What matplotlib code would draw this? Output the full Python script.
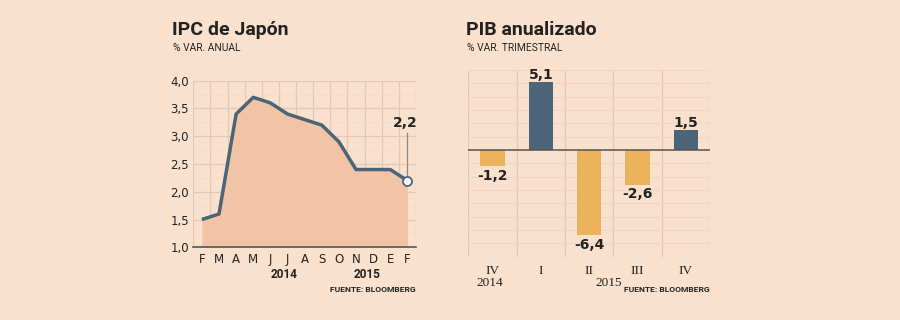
import matplotlib.pyplot as plt
from matplotlib.ticker import MultipleLocator, FixedLocator

# IPC de Japon, % var. anual (feb 2014 - feb 2015)
months = ["F", "M", "A", "M", "J", "J", "A", "S", "O", "N", "D", "E", "F"]
ipc = [1.5, 1.6, 3.4, 3.7, 3.6, 3.4, 3.3, 3.2, 2.9, 2.4, 2.4, 2.4, 2.2]
ipc_yticks = [1.0, 1.5, 2.0, 2.5, 3.0, 3.5, 4.0]

# PIB anualizado, % var. trimestral
quarters = ["IV", "I", "II", "III", "IV"]
pib = [-1.2, 5.1, -6.4, -2.6, 1.5]
pib_colors = ["#ebb25a", "#4b6478", "#ebb25a", "#ebb25a", "#4b6478"]

bg = "#f9e1cd"
grid_c = "#e3c8b5"
line_c = "#4b6478"
W, H = 900, 320

def fx(px):
    return px / W

def fy(py):
    return 1 - py / H

def fmt(v):
    return f"{v:.1f}".replace(".", ",")

fig = plt.figure(figsize=(9, 3.2), dpi=100, facecolor=bg)
narrow = ["Roboto", "DejaVu Sans"]

# ---- left chart ----
ax1 = fig.add_axes([fx(193.3), fy(247.3), fx(416 - 193.3), (247.3 - 80.7) / H])
ax1.set_facecolor(bg)
x = list(range(len(months)))
ax1.fill_between(x, ipc, 1.0, color="#f2c4a5", lw=0, zorder=2)
ax1.plot(x, ipc, color=line_c, lw=2.5, zorder=3, solid_capstyle="butt")
ax1.plot(x[-1], ipc[-1], "o", ms=6.5, mfc="white", mec=line_c, mew=1.3, zorder=5)
ax1.plot([x[-1], x[-1]], [ipc[-1] + 0.08, 3.06], color="#888888", lw=0.9, zorder=4)
ax1.text(x[-1] - 0.1, 3.24, fmt(ipc[-1]), ha="center", va="center",
         fontsize=10, fontweight="bold", color="#222222")
ax1.set_xlim(-0.5, len(months) - 0.5)
ax1.set_ylim(1.0, 4.0)
ax1.set_xticks(x)
ax1.set_xticklabels(months)
ax1.xaxis.set_minor_locator(FixedLocator([i - 0.5 for i in range(len(months) + 1)]))
ax1.set_yticks(ipc_yticks)
ax1.set_yticklabels([fmt(v) for v in ipc_yticks])
ax1.yaxis.set_minor_locator(MultipleLocator(0.25))
ax1.grid(axis="x", which="minor", color=grid_c, lw=0.9, zorder=1)
ax1.grid(axis="y", which="major", color=grid_c, lw=0.9, zorder=1)
ax1.grid(axis="y", which="minor", color="#f4dac8", lw=0.5, zorder=1)
ax1.tick_params(which="both", length=0, labelsize=8.5, colors="#222222")
ax1.tick_params(axis="x", pad=4)
ax1.tick_params(axis="y", pad=3)
for s in ["top", "right", "left"]:
    ax1.spines[s].set_visible(False)
ax1.spines["bottom"].set_color("#555555")
ax1.spines["bottom"].set_linewidth(1.2)
ax1.set_axisbelow(True)

fig.text(fx(284), fy(274), "2014", ha="center", va="center", fontsize=8.5,
         fontweight="bold", family=narrow, color="#222222")
fig.text(fx(366.7), fy(274), "2015", ha="center", va="center", fontsize=8.5,
         fontweight="bold", family=narrow, color="#222222")
fig.text(fx(416), fy(290), "FUENTE: BLOOMBERG", ha="right", va="center", fontsize=6.1,
         fontweight="bold", family=narrow, color="#222222")
fig.text(fx(172), fy(30), "IPC de Japón", ha="left", va="center", fontsize=14,
         fontweight="bold", family=narrow, color="#222222")
fig.text(fx(173), fy(48), "% VAR. ANUAL", ha="left", va="center", fontsize=7.4,
         family=narrow, color="#222222")

# ---- right chart ----
ax2 = fig.add_axes([fx(468.3), fy(256.7), fx(710 - 468.3), (256.7 - 70) / H])
ax2.set_facecolor(bg)
xq = list(range(len(quarters)))
ax2.bar(xq, pib, width=0.5, color=pib_colors, zorder=3)
ax2.axhline(0, color="#555555", lw=1.1, zorder=4)
for i, v in zip(xq, pib):
    if v >= 0:
        ax2.text(i, v + 0.55, fmt(v), ha="center", va="center", fontsize=10,
                 fontweight="bold", color="#222222")
    else:
        ax2.text(i, v - 0.72, "-" + fmt(-v), ha="center", va="center", fontsize=10,
                 fontweight="bold", color="#222222")
ax2.set_xlim(-0.5, len(quarters) - 0.5)
ax2.set_ylim(-8, 6)
ax2.set_xticks(xq)
ax2.set_xticklabels(quarters, family=["Liberation Serif", "DejaVu Serif"], fontsize=9.5)
ax2.xaxis.set_minor_locator(FixedLocator([i - 0.5 for i in range(len(quarters) + 1)]))
ax2.yaxis.set_major_locator(MultipleLocator(1))
ax2.set_yticklabels([])
ax2.grid(axis="x", which="minor", color=grid_c, lw=0.9, zorder=1)
ax2.grid(axis="y", which="major", color="#f0d5c2", lw=0.8, zorder=1)
ax2.tick_params(which="both", length=0, colors="#222222")
ax2.tick_params(axis="x", pad=6)
for s in ax2.spines.values():
    s.set_visible(False)
ax2.set_axisbelow(True)

serif = ["Liberation Serif", "DejaVu Serif"]
fig.text(fx(490), fy(283), "2014", ha="center", va="center", fontsize=9.5,
         family=serif, color="#222222")
fig.text(fx(609), fy(283), "2015", ha="center", va="center", fontsize=9.5,
         family=serif, color="#222222")
fig.text(fx(710), fy(290), "FUENTE: BLOOMBERG", ha="right", va="center", fontsize=6.1,
         fontweight="bold", family=narrow, color="#222222")
fig.text(fx(466), fy(30), "PIB anualizado", ha="left", va="center", fontsize=14,
         fontweight="bold", family=narrow, color="#222222")
fig.text(fx(467), fy(48), "% VAR. TRIMESTRAL", ha="left", va="center", fontsize=7.4,
         family=narrow, color="#222222")

fig.savefig("out.png", dpi=100, facecolor=bg)
